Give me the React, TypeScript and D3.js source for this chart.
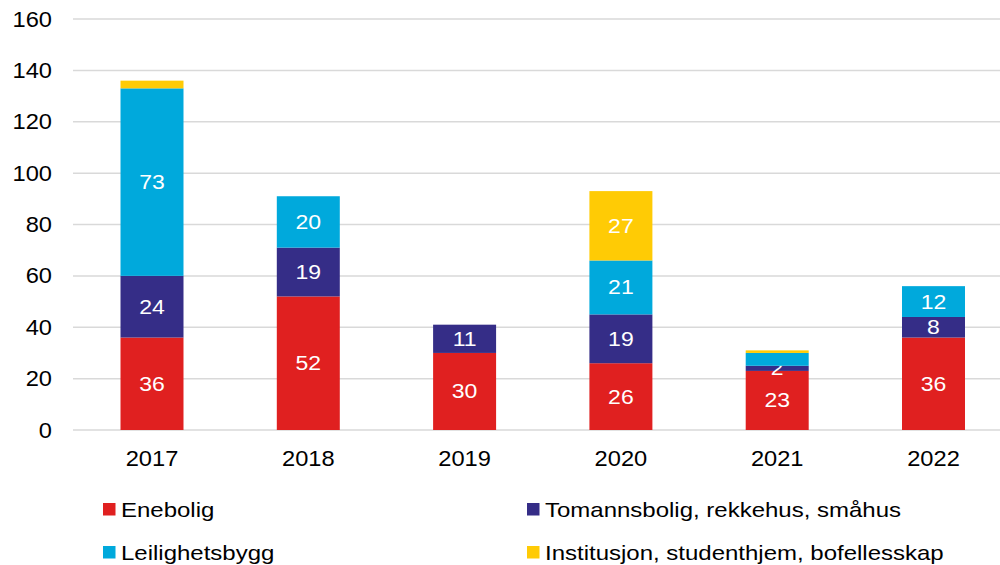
import React from "react";
import * as d3 from "d3";

const years = ["2017", "2018", "2019", "2020", "2021", "2022"];
const seriesNames = [
  "Enebolig",
  "Tomannsbolig, rekkehus, småhus",
  "Leilighetsbygg",
  "Institusjon, studenthjem, bofellesskap",
];
const enebolig = [36, 52, 30, 26, 23, 36];
const tomannsbolig = [24, 19, 11, 19, 2, 8];
const leilighetsbygg = [73, 20, 0, 21, 5, 12];
const institusjon = [3, 0, 0, 27, 1, 0];
// whether the value label is printed on each segment
const eneboligLabel = [true, true, true, true, true, true];
const tomannsboligLabel = [true, true, true, true, true, true];
const leilighetsbyggLabel = [true, true, false, true, false, true];
const institusjonLabel = [false, false, false, true, false, false];
const yTicks = [0, 20, 40, 60, 80, 100, 120, 140, 160];

const colors = ["#E02020", "#352D87", "#00A9DC", "#FFCB05"];

const W = 1000;
const H = 565;
const FONT = "'Liberation Sans', Arial, sans-serif";

function T({ x, y, anchor, size, fill, sx = 1.18, children }: any) {
  return (
    <text
      transform={`translate(${x},${y}) scale(${sx},1)`}
      textAnchor={anchor}
      fontSize={size}
      fill={fill}
      fontFamily={FONT}
    >
      {children}
    </text>
  );
}

export default function App() {
  const values = [enebolig, tomannsbolig, leilighetsbygg, institusjon];
  const labels = [eneboligLabel, tomannsboligLabel, leilighetsbyggLabel, institusjonLabel];
  const y = d3.scaleLinear().domain([0, 160]).range([430, 19]);
  const x = d3
    .scaleBand<string>()
    .domain(years)
    .range([73.85, 1011.65])
    .paddingInner(0.597)
    .paddingOuter(0.2985);

  const rows = years.map((yr, i) => {
    const o: any = { year: yr };
    seriesNames.forEach((s, k) => (o[s] = values[k][i]));
    return o;
  });
  const stacked = d3.stack<any>().keys(seriesNames)(rows);

  return (
    <svg
      width={W}
      height={H}
      style={{ position: "absolute", left: 0, top: 0, display: "block", background: "#fff" }}
    >
      {yTicks.map((t) => (
        <g key={t}>
          <line x1={73} x2={W} y1={y(t)} y2={y(t)} stroke="#D9D9D9" strokeWidth={1.5} />
          <T x={52} y={y(t) + 7.5} anchor="end" size={21.5} sx={1.1} fill="#000">
            {t}
          </T>
        </g>
      ))}
      {stacked.map((layer, k) => (
        <g key={k}>
          {layer.map((d, i) => {
            const v = values[k][i];
            if (!v) return null;
            const x0 = x(years[i])!;
            const y0 = y(d[1]);
            const h = y(d[0]) - y(d[1]);
            return (
              <g key={i}>
                <rect x={x0} y={y0} width={x.bandwidth()} height={h} fill={colors[k]} />
                {labels[k][i] && (
                  <T
                    x={x0 + x.bandwidth() / 2}
                    y={y0 + h / 2 + 7}
                    anchor="middle"
                    size={19.5}
                    fill="#fff"
                  >
                    {v}
                  </T>
                )}
              </g>
            );
          })}
        </g>
      ))}
      {years.map((yr) => (
        <T key={yr} x={x(yr)! + x.bandwidth() / 2} y={466} anchor="middle" size={21.5} sx={1.1} fill="#000">
          {yr}
        </T>
      ))}
      {seriesNames.map((s, k) => {
        const col = k % 2;
        const row = Math.floor(k / 2);
        const lx = col === 0 ? 103 : 527;
        const ly = row === 0 ? 503 : 546;
        return (
          <g key={s}>
            <rect x={lx} y={ly} width={12.5} height={12.5} fill={colors[k]} />
            <T x={lx + 18} y={ly + 14} anchor="start" size={20} sx={1.2} fill="#000">
              {s}
            </T>
          </g>
        );
      })}
    </svg>
  );
}
